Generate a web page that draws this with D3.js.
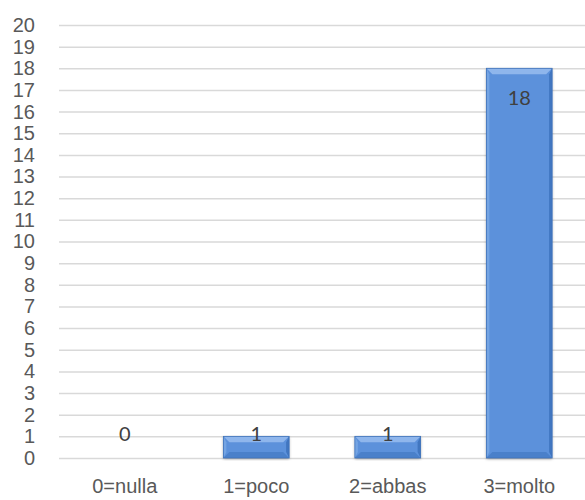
<!DOCTYPE html>
<html>
<head>
<meta charset="utf-8">
<script src="https://cdn.jsdelivr.net/npm/d3@7"></script>
<style>
  html, body { margin: 0; padding: 0; background: #fff; }
  svg { display: block; font-family: Lato, "Open Sans", sans-serif; }
</style>
</head>
<body>
<svg id="chart" width="585" height="500"></svg>
<script>
// Survey answers and counts
const categories = ["0=nulla", "1=poco", "2=abbas", "3=molto"];
const counts = [0, 1, 1, 18];
const yTicks = d3.range(0, 21);

const svg = d3.select("#chart");
const plot = { left: 59, right: 585, top: 25, bottom: 458 };

const x = d3.scaleBand()
  .domain(categories)
  .range([plot.left, plot.right])
  .paddingInner(0.5)
  .paddingOuter(0.25);

const y = d3.scaleLinear()
  .domain([0, 20])
  .range([plot.bottom, plot.top]);

// Horizontal gridlines + value labels on the left
const yAxis = d3.axisLeft(y)
  .tickValues(yTicks)
  .tickSize(-(plot.right - plot.left))
  .tickPadding(24)
  .tickFormat(d3.format("d"));

const gy = svg.append("g")
  .attr("transform", `translate(${plot.left},0)`)
  .call(yAxis);
gy.select(".domain").remove();
gy.selectAll(".tick line").attr("stroke", "#d9d9d9").attr("stroke-width", 1.5);
gy.selectAll(".tick text")
  .attr("fill", "#595959")
  .attr("font-size", 20);

// Category labels along the bottom
const xAxis = d3.axisBottom(x).tickSize(0).tickPadding(21);
const gx = svg.append("g")
  .attr("transform", `translate(0,${plot.bottom})`)
  .call(xAxis);
gx.select(".domain").remove();
gx.selectAll(".tick text")
  .attr("fill", "#595959")
  .attr("font-size", 20);

// Shadow for the bevelled bars
const defs = svg.append("defs");
const shadow = defs.append("filter").attr("id", "barShadow")
  .attr("x", "-20%").attr("y", "-5%").attr("width", "140%").attr("height", "115%");
shadow.append("feDropShadow")
  .attr("dx", 0).attr("dy", 1).attr("stdDeviation", 1.6)
  .attr("flood-color", "#000").attr("flood-opacity", 0.35);

const bevelTop = 6, bevelSide = 3;
const bars = svg.append("g").selectAll("g.bar")
  .data(counts.map((v, i) => ({ cat: categories[i], v })).filter(d => d.v > 0))
  .join("g").attr("class", "bar");

bars.each(function (d) {
  const g = d3.select(this);
  const x0 = x(d.cat), x1 = x0 + x.bandwidth();
  const y0 = y(d.v), y1 = y(0);
  const bt = Math.min(bevelTop, (y1 - y0) / 3);
  const bs = Math.max(2, Math.min(bevelSide, bt));
  g.append("rect")
    .attr("x", x0).attr("y", y0)
    .attr("width", x1 - x0).attr("height", y1 - y0)
    .attr("fill", "#5b91db")
    .attr("filter", "url(#barShadow)");
  const poly = (pts, fill) => g.append("polygon")
    .attr("points", pts.map(p => p.join(",")).join(" "))
    .attr("fill", fill);
  // top facet
  poly([[x0, y0], [x1, y0], [x1 - bt, y0 + bt], [x0 + bt, y0 + bt]], "#8fb6ec");
  // left facet
  poly([[x0, y0], [x0 + bs, y0 + bt], [x0 + bs, y1 - bt], [x0, y1]], "#74a4e3");
  // right facet
  poly([[x1, y0], [x1, y1], [x1 - bs, y1 - bt], [x1 - bs, y0 + bt]], "#4176c0");
  // bottom facet
  poly([[x0, y1], [x0 + bt, y1 - bt], [x1 - bt, y1 - bt], [x1, y1]], "#4a80ca");
  g.append("rect")
    .attr("x", x0).attr("y", y0)
    .attr("width", x1 - x0).attr("height", y1 - y0)
    .attr("fill", "none").attr("stroke", "#3f72b8").attr("stroke-width", 0.8);
});

// Value labels
svg.append("g").selectAll("text")
  .data(counts.map((v, i) => ({ cat: categories[i], v })))
  .join("text")
  .attr("x", d => x(d.cat) + x.bandwidth() / 2)
  .attr("y", d => Math.min(y(d.v) + 29, y(0) - 25))
  .attr("text-anchor", "middle")
  .attr("dominant-baseline", "central")
  .attr("fill", "#404040")
  .attr("font-size", 20)
  .text(d => d.v);
</script>
</body>
</html>
